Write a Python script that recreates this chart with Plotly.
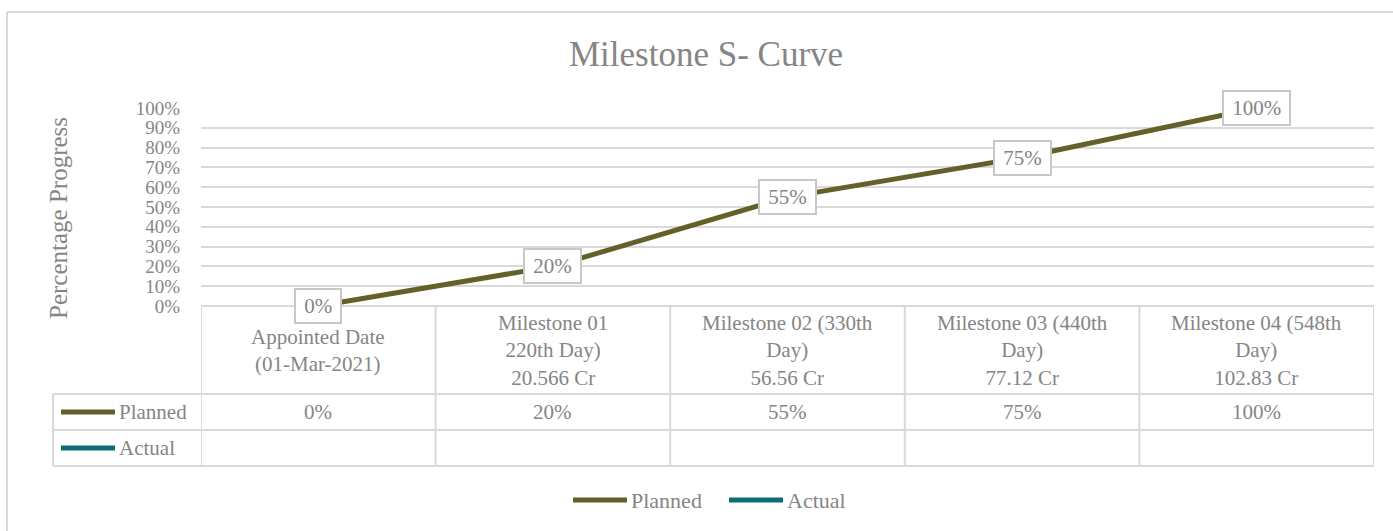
import plotly.graph_objects as go

# ---- data ----
categories = [
    "Appointed Date<br>(01-Mar-2021)",
    "Milestone 01<br>220th Day)<br>20.566 Cr",
    "Milestone 02 (330th<br>Day)<br>56.56 Cr",
    "Milestone 03 (440th<br>Day)<br>77.12 Cr",
    "Milestone 04 (548th<br>Day)<br>102.83 Cr",
]
planned = [0.0, 0.20, 0.55, 0.75, 1.00]
actual = [None, None, None, None, None]
series_names = ["Planned", "Actual"]
title_text = "Milestone S- Curve"
y_title = "Percentage Progress"
y_ticks = [0, 0.1, 0.2, 0.3, 0.4, 0.5, 0.6, 0.7, 0.8, 0.9, 1.0]

# ---- style ----
W, H = 1393, 531
L, R, T, B = 201, 19, 108, 225
PW, PH = W - L - R, H - T - B
OLIVE = "#636029"
TEAL = "#0c6d74"
GRID = "#d9d9d9"
TXT = "#858585"
FONT = "Liberation Serif"
FS = 21

def px(xp):
    return (xp - L) / PW

def py(yp):
    return (T + PH - yp) / PH

xs = list(range(len(categories)))

fig = go.Figure()
fig.add_trace(go.Scatter(x=xs, y=planned, mode="lines", name=series_names[0],
                         line=dict(color=OLIVE, width=5), showlegend=False))
fig.add_trace(go.Scatter(x=xs, y=actual, mode="lines", name=series_names[1],
                         line=dict(color=TEAL, width=5), showlegend=False))

shapes = []
ann = []

# chart border (top & left visible)
shapes.append(dict(type="line", xref="paper", yref="paper", x0=px(7), x1=px(W + 5), y0=py(12), y1=py(12),
                   line=dict(color=GRID, width=2)))
shapes.append(dict(type="line", xref="paper", yref="paper", x0=px(7), x1=px(7), y0=py(12), y1=py(H + 5),
                   line=dict(color=GRID, width=2)))

# data table
row_tops = [306, 394, 430, 466]
n = len(categories)
shapes.append(dict(type="line", xref="x", yref="paper", x0=-0.5, x1=n - 0.5, y0=py(306), y1=py(306),
                   line=dict(color=GRID, width=2)))
for yy in row_tops[1:]:
    shapes.append(dict(type="line", xref="paper", yref="paper", x0=px(53), x1=1, y0=py(yy), y1=py(yy),
                       line=dict(color=GRID, width=2)))
for i in range(n + 1):
    shapes.append(dict(type="line", xref="x", yref="paper", x0=i - 0.5, x1=i - 0.5, y0=py(306), y1=py(466),
                       line=dict(color=GRID, width=2)))
shapes.append(dict(type="line", xref="paper", yref="paper", x0=px(53), x1=px(53), y0=py(394), y1=py(466),
                   line=dict(color=GRID, width=2)))

for i, c in enumerate(categories):
    ann.append(dict(x=i, y=py(350), xref="x", yref="paper", text=c, showarrow=False,
                    xanchor="center", yanchor="middle", font=dict(family=FONT, size=FS, color=TXT)))
    if planned[i] is not None:
        ann.append(dict(x=i, y=py(412), xref="x", yref="paper", text=f"{planned[i]:.0%}", showarrow=False,
                        xanchor="center", yanchor="middle", font=dict(family=FONT, size=FS, color=TXT)))
    if actual[i] is not None:
        ann.append(dict(x=i, y=py(448), xref="x", yref="paper", text=f"{actual[i]:.0%}", showarrow=False,
                        xanchor="center", yanchor="middle", font=dict(family=FONT, size=FS, color=TXT)))

# table legend keys
for name, col, yc in [(series_names[0], OLIVE, 412), (series_names[1], TEAL, 448)]:
    shapes.append(dict(type="line", xref="paper", yref="paper", x0=px(61), x1=px(115), y0=py(yc), y1=py(yc),
                       line=dict(color=col, width=5)))
    ann.append(dict(x=px(117), y=py(yc), xref="paper", yref="paper", text=name, showarrow=False,
                    xanchor="left", yanchor="middle", font=dict(family=FONT, size=FS, color=TXT)))

# data labels
for i, v in enumerate(planned):
    if v is None:
        continue
    ann.append(dict(x=i, y=v, xref="x", yref="y", text=f"\u2009{v:.0%}\u2009", showarrow=False,
                    xanchor="center", yanchor="middle", bgcolor="white", bordercolor="#c8c8c8",
                    borderwidth=2, borderpad=4, font=dict(family=FONT, size=FS, color=TXT)))

# bottom legend
for name, col, x0 in [(series_names[0], OLIVE, 573), (series_names[1], TEAL, 729)]:
    shapes.append(dict(type="line", xref="paper", yref="paper", x0=px(x0), x1=px(x0 + 54), y0=py(500), y1=py(500),
                       line=dict(color=col, width=5)))
    ann.append(dict(x=px(x0 + 56), y=py(500), xref="paper", yref="paper", text=name, showarrow=False,
                    xanchor="left", yanchor="middle", font=dict(family=FONT, size=22, color=TXT)))

# title & y title
ann.append(dict(x=px(706), y=py(55), xref="paper", yref="paper", text=title_text, showarrow=False,
                xanchor="center", yanchor="middle", font=dict(family=FONT, size=35, color=TXT)))
ann.append(dict(x=px(58), y=py(218), xref="paper", yref="paper", text=y_title, showarrow=False,
                textangle=-90, xanchor="center", yanchor="middle", font=dict(family=FONT, size=25, color=TXT)))

fig.update_layout(
    width=W, height=H,
    margin=dict(l=L, r=R, t=T, b=B),
    plot_bgcolor="white", paper_bgcolor="white",
    showlegend=False,
    shapes=shapes, annotations=ann,
    xaxis=dict(range=[-0.5, n - 0.5], showgrid=False, zeroline=False, showticklabels=False, showline=False),
    yaxis=dict(range=[0, 1], tickvals=y_ticks, tickformat=".0%", showgrid=True, gridcolor=GRID, gridwidth=2,
               zeroline=False, showline=False, ticklabelstandoff=20,
               tickfont=dict(family=FONT, size=19, color=TXT)),
)

fig.write_html("out.html", config={"displayModeBar": False},
               post_script="document.body.style.margin='0';document.body.style.overflow='hidden';")
